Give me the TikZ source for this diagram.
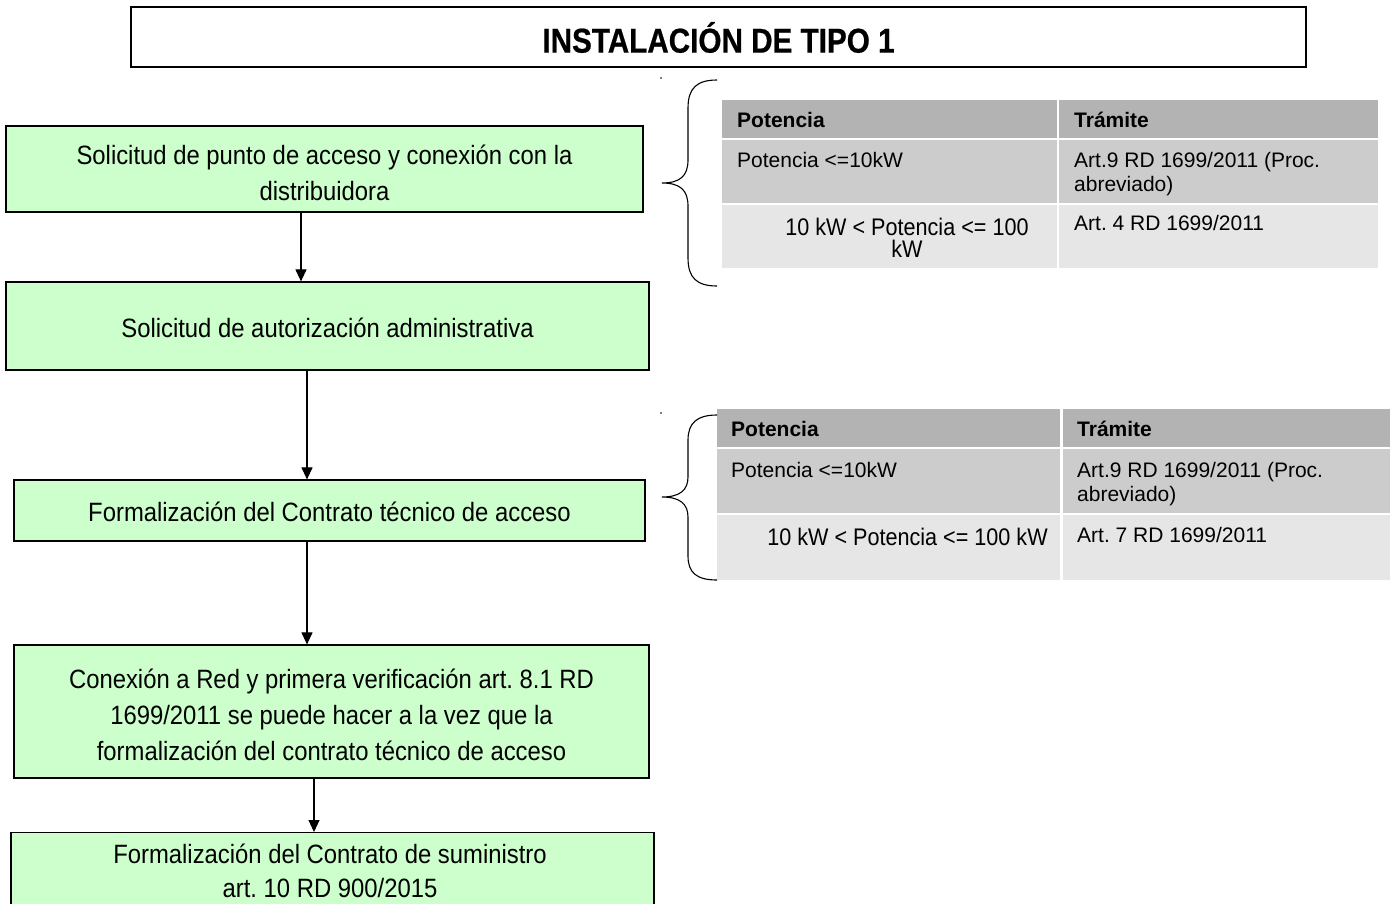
\documentclass[tikz,border=0pt]{standalone}
\usepackage{fontspec}
\setmainfont{Liberation Sans}
\newfontfamily\cond[FakeStretch=0.9]{Liberation Sans}
\newfontfamily\condbold[FakeStretch=0.86,FakeBold=0.6]{Liberation Sans}
\usetikzlibrary{arrows.meta}
\definecolor{boxgreen}{RGB}{204,255,204}
\definecolor{hdrgray}{RGB}{179,179,179}
\definecolor{rowa}{RGB}{204,204,204}
\definecolor{rowb}{RGB}{230,230,230}
\tikzset{
  flowbox/.style={draw=black, line width=1.2pt, fill=boxgreen, inner sep=0pt},
  flowtext/.style={inner sep=0pt, align=center, font=\cond\fontsize{26.5}{36}\selectfont},
  arr/.style={-{Triangle[length=12pt,width=11pt]}, line width=1.1pt},
  cell/.style={inner sep=0pt, anchor=base west, font=\fontsize{21}{24}\selectfont},
  hcell/.style={cell, font=\bfseries\fontsize{21}{24}\selectfont},
  condcell/.style={inner sep=0pt, align=center, font=\cond\fontsize{24}{22}\selectfont},
  bracestyle/.style={line width=1.1pt},
}
\begin{document}
\frenchspacing
\begin{tikzpicture}[x=1pt,y=-1pt]
\useasboundingbox (0,0) rectangle (1390,903);
\clip (0,0) rectangle (1390,903);
\fill[white] (0,0) rectangle (1390,903);

% title
\node[draw=black, line width=1.2pt, minimum width=1175pt, minimum height=60pt, inner sep=0pt] (title) at (718.5,37) {};
\node[inner sep=0pt, font=\condbold\bfseries\fontsize{34.5}{36}\selectfont] (titlet) at ([yshift=-0.5pt]title.center) {INSTALACIÓN DE TIPO 1};

% flow boxes
\node[flowbox, minimum width=637pt, minimum height=86pt] (b1) at (324.5,169) {};
\node[flowtext] (b1t) at ([yshift=-3.5pt]b1.center)
  {Solicitud de punto de acceso y conexión con la\\distribuidora};
\node[flowbox, minimum width=643pt, minimum height=88pt] (b2) at (327.5,326) {};
\node[flowtext] (b2t) at ([yshift=-2pt]b2.center) {Solicitud de autorización administrativa};
\node[flowbox, minimum width=631pt, minimum height=61pt] (b3) at (329.5,510.5) {};
\node[flowtext] (b3t) at ([yshift=-1pt]b3.center) {Formalización del Contrato técnico de acceso};
\node[flowbox, minimum width=635pt, minimum height=133pt] (b4) at (331.5,711.5) {};
\node[flowtext] (b4t) at ([yshift=-3pt]b4.center)
  {Conexión a Red y primera verificación art. 8.1 RD\\1699/2011 se puede hacer a la vez que la\\formalización del contrato técnico de acceso};
\node[flowbox, minimum width=643pt, minimum height=100pt, anchor=north] (b5) at (332.5,832) {};
\node[flowtext, font=\cond\fontsize{26.5}{34}\selectfont] (b5t) at (330,871)
  {Formalización del Contrato de suministro\\art. 10 RD 900/2015};

% arrows
\coordinate (xa) at (301,0);
\coordinate (xb) at (307,0);
\coordinate (xc) at (314,0);
\draw[arr] (b1.south -| xa) -- (b2.north -| xa);
\draw[arr] (b2.south -| xb) -- (b3.north -| xb);
\draw[arr] (b3.south -| xb) -- (b4.north -| xb);
\draw[arr] (b4.south -| xc) -- (b5.north -| xc);

% table 1
\fill[hdrgray] (722,100) rectangle (1057,138);
\fill[hdrgray] (1059,100) rectangle (1378,138);
\fill[rowa] (722,140) rectangle (1057,203);
\fill[rowa] (1059,140) rectangle (1378,203);
\fill[rowb] (722,205) rectangle (1057,268);
\fill[rowb] (1059,205) rectangle (1378,268);
\node[hcell] (t1h1) at (737,127.5) {Potencia};
\node[hcell] (t1h2) at (1074,127.5) {Trámite};
\node[cell] (t1a1) at (737,167) {Potencia <=10kW};
\node[cell] (t1a2) at (1074,167) {Art.9 RD 1699/2011 (Proc.};
\node[cell] (t1a3) at (1074,191) {abreviado)};
\node[condcell] (t1b1) at (907,238) {10 kW < Potencia <= 100\\kW};
\node[cell] (t1b2) at (1074,230.5) {Art. 4 RD 1699/2011};

% table 2
\fill[hdrgray] (717,409) rectangle (1060,447);
\fill[hdrgray] (1063,409) rectangle (1390,447);
\fill[rowa] (717,449) rectangle (1060,513);
\fill[rowa] (1063,449) rectangle (1390,513);
\fill[rowb] (717,515) rectangle (1060,580);
\fill[rowb] (1063,515) rectangle (1390,580);
\node[hcell] (t2h1) at (731,436.5) {Potencia};
\node[hcell] (t2h2) at (1077,436.5) {Trámite};
\node[cell] (t2a1) at (731,477) {Potencia <=10kW};
\node[cell] (t2a2) at (1077,477) {Art.9 RD 1699/2011 (Proc.};
\node[cell] (t2a3) at (1077,501) {abreviado)};
\node[condcell] (t2b1) at (907.5,537) {10 kW < Potencia <= 100 kW};
\node[cell] (t2b2) at (1077,542) {Art. 7 RD 1699/2011};

% braces
\draw[bracestyle] (717,80) .. controls (697,80) and (688,88) .. (688,108) -- (688,160)
  .. controls (688,176) and (680,183) .. (662,183)
  .. controls (680,183) and (688,190) .. (688,206) -- (688,258)
  .. controls (688,278) and (697,286) .. (717,286);
\draw[bracestyle] (717,415) .. controls (697,415) and (688,423) .. (688,440) -- (688,477)
  .. controls (688,490) and (680,497) .. (662,497)
  .. controls (680,497) and (688,504) .. (688,517) -- (688,556)
  .. controls (688,573) and (697,580) .. (717,580);
\fill (661,78) circle (0.8pt);
\fill (661,413) circle (0.8pt);
\end{tikzpicture}
\end{document}
